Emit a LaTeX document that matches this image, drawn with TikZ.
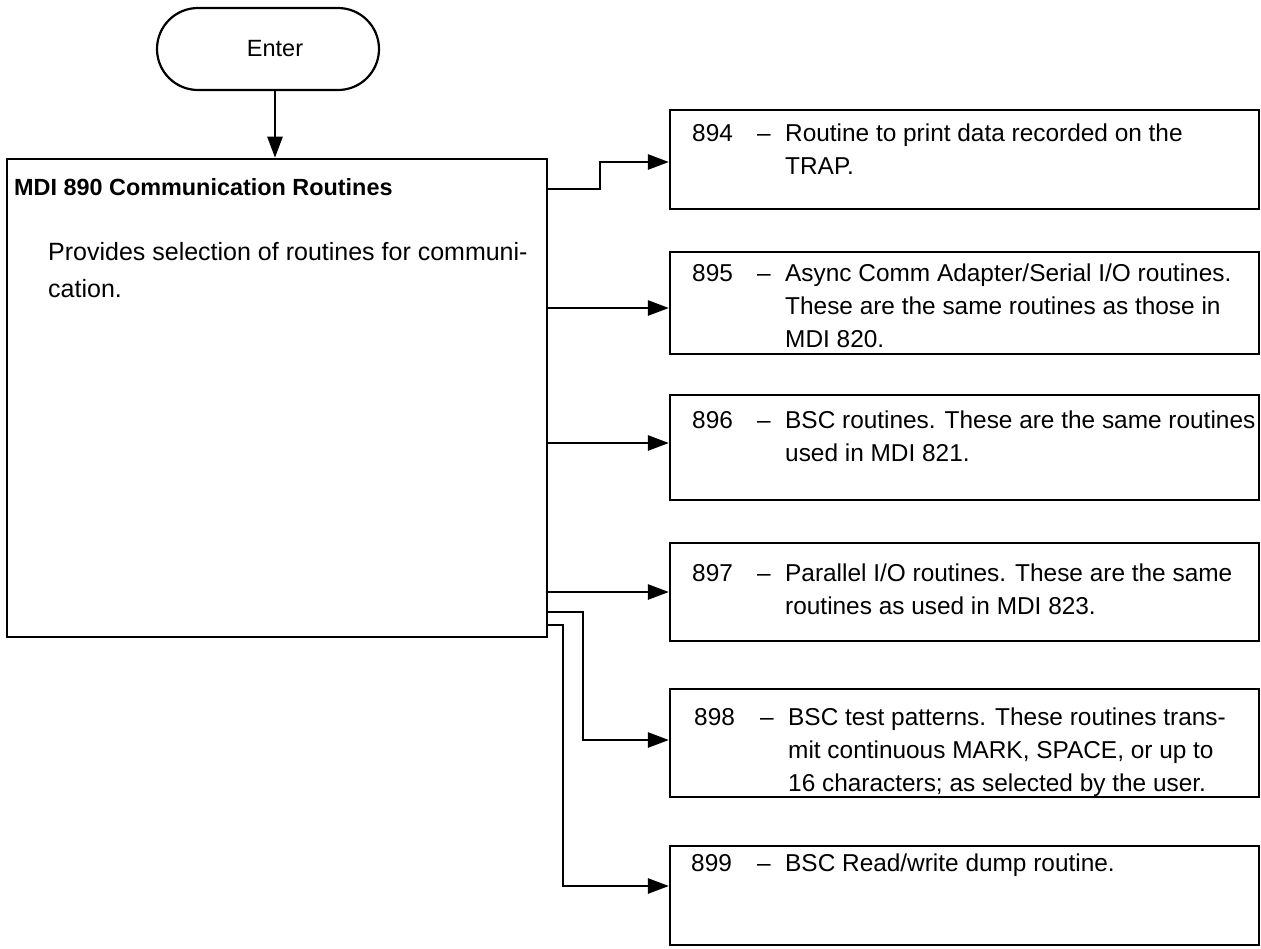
\documentclass[tikz,border=0pt]{standalone}
\usepackage{fontspec}
\setmainfont{Liberation Sans}
\usetikzlibrary{arrows.meta}
\newcommand\rlines[1]{\begin{tabular}[t]{@{}l@{}}#1\end{tabular}}
\begin{document}
\begin{tikzpicture}[x=1pt,y=-1pt,
  arr/.style={line width=2.6pt,-{Triangle[length=21pt,width=15pt]}},
  rbox/.style={draw=black,line width=2.2pt,minimum width=589pt,inner sep=0pt},
  txt/.style={font=\fontsize{24.4}{33}\selectfont,inner sep=0pt,anchor=base west}]
\useasboundingbox (0,0) rectangle (1261,948);
\fill[white] (0,0) rectangle (1261,948);

% terminal
\node[draw,line width=2.2pt,rounded corners=41pt,minimum width=222pt,minimum height=82pt,
      inner sep=0pt,font=\fontsize{23.5}{28}\selectfont] (enter) at (268,49) {\hspace*{14pt}Enter};

% main box
\node[draw,line width=2.6pt,minimum width=540pt,minimum height=478pt,inner sep=0pt] (main) at (277,398) {};
\node[txt,font=\bfseries\fontsize{23.4}{28}\selectfont] (mtitle) at (14,195) {MDI 890 Communication Routines};
\node[txt,font=\fontsize{25}{37}\selectfont] (mdesc) at (48,260) {\rlines{Provides selection of routines for communi-\\cation.}};

% right boxes
\node[rbox,minimum height=99pt] (b894) at (964.5,159.5) {};
\node[rbox,minimum height=102pt] (b895) at (964.5,303) {};
\node[rbox,minimum height=105pt] (b896) at (964.5,447.5) {};
\node[rbox,minimum height=98pt] (b897) at (964.5,592) {};
\node[rbox,minimum height=108pt] (b898) at (964.5,743) {};
\node[rbox,minimum height=99pt] (b899) at (964.5,895.5) {};

% texts
\node[txt] (n894) at (692,141) {894};
\node[txt] (d894) at (757,141) {–};
\node[txt] (t894) at (785,141) {\rlines{Routine to print data recorded on the\\TRAP.}};

\node[txt] (n895) at (692,281) {895};
\node[txt] (d895) at (757,281) {–};
\node[txt] (t895) at (785,281) {\rlines{Async Comm Adapter/Serial I/O routines.\\These are the same routines as those in\\MDI 820.}};

\node[txt] (n896) at (692,428) {896};
\node[txt] (d896) at (757,428) {–};
\node[txt] (t896) at (785,428) {\rlines{BSC routines.\hspace{9pt}These are the same routines\\used in MDI 821.}};

\node[txt] (n897) at (692,581) {897};
\node[txt] (d897) at (757,581) {–};
\node[txt] (t897) at (785,581) {\rlines{Parallel I/O routines.\hspace{9pt}These are the same\\routines as used in MDI 823.}};

\node[txt] (n898) at (694,725) {898};
\node[txt] (d898) at (760,725) {–};
\node[txt] (t898) at (788,725) {\rlines{BSC test patterns. These routines trans-\\mit continuous MARK, SPACE, or up to\\16 characters; as selected by the user.}};

\node[txt] (n899) at (691,871) {899};
\node[txt] (d899) at (757,871) {–};
\node[txt] (t899) at (785,871) {BSC Read/write dump routine.};

% connectors
\draw[arr] (enter.south -| 275,0) -- (main.north -| 275,0);
\draw[arr] (main.east |- 0,189) -- (600,189) -- (600,162) -- (b894.west |- 0,162);
\draw[arr] (main.east |- 0,308) -- (b895.west |- 0,308);
\draw[arr] (main.east |- 0,443) -- (b896.west |- 0,443);
\draw[arr] (main.east |- 0,592) -- (b897.west |- 0,592);
\draw[arr] (main.east |- 0,612) -- (583,612) -- (583,740) -- (b898.west |- 0,740);
\draw[arr] (main.east |- 0,625) -- (563,625) -- (563,886) -- (b899.west |- 0,886);
\end{tikzpicture}
\end{document}
